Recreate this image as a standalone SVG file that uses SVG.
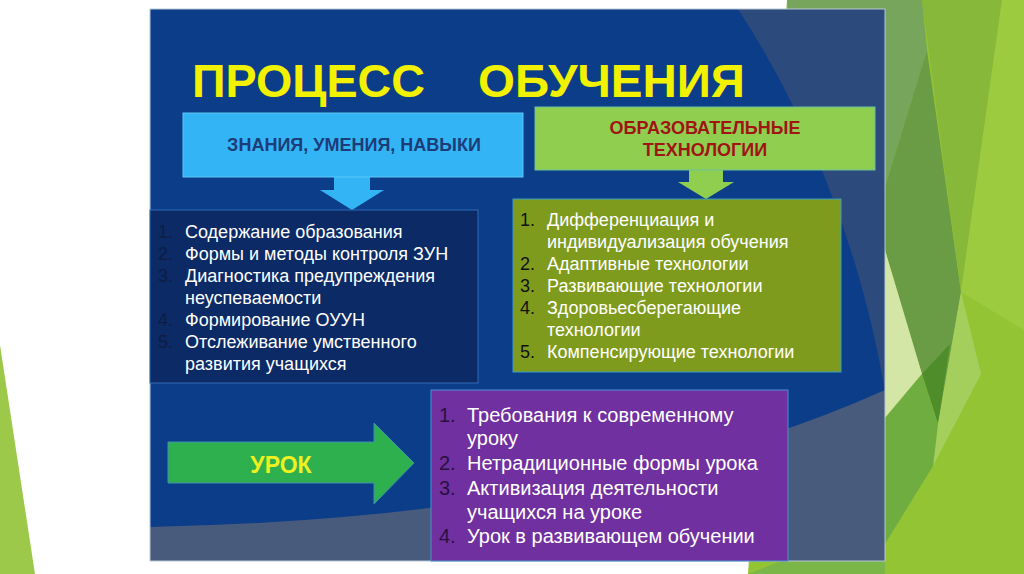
<svg xmlns="http://www.w3.org/2000/svg" width="1024" height="574" viewBox="0 0 1024 574">
<style>
.t{font-family:"Liberation Sans",Arial,sans-serif}
.li{font-family:"Liberation Sans",Arial,sans-serif;font-size:18px;fill:#ffffff}
.lp{font-family:"Liberation Sans",Arial,sans-serif;font-size:20px;fill:#ffffff}
.hd{font-family:"Liberation Sans",Arial,sans-serif;font-size:18px;font-weight:bold;text-anchor:middle}
</style>
<rect width="1024" height="574" fill="#ffffff"/>
<g id="background">
<polygon points="0,345 35,574 0,574" fill="#9dc94b"/>
<polygon points="787,0 1024,0 1024,574 748,574" fill="#93c434"/>
<polygon points="787,0 922,0 927,50 885,187 800,187" fill="#77a55c"/>
<polygon points="927,50 961,292 938,424 922,374 885,250 885,187" fill="#6a9b45"/>
<polygon points="922,0 1002,0 961,292" fill="#87b83a"/>
<polygon points="1002,0 1024,0 1024,330 961,292" fill="#9ccb40"/>
<polygon points="885,250 922,374 885,418" fill="#d3e6a6"/>
<polygon points="922,374 950,344 938,424" fill="#4f8d2b"/>
<polygon points="961,292 981,374 933,466 938,424" fill="#a5cf5c"/>
<polygon points="885,418 922,374 938,424 933,466 885,544" fill="#70ad40"/>
<polygon points="885,520 885,574 748,574" fill="#7ab648"/>
</g>
<g id="frame">
<rect x="150" y="9" width="735" height="552" fill="#0c3d88"/>
<path d="M738,9 L885,9 L885,392 C870,300 830,150 738,9 Z" fill="#2d4a7d"/>
<path d="M150,527 Q600,518 885,390 L885,561 L150,561 Z" fill="#485b7d"/>
<rect x="150" y="9" width="735" height="552" fill="none" stroke="#b8c8d8" stroke-width="1"/>
</g>
<g id="title">
<text class="t" x="192" y="97" font-size="47" font-weight="bold" fill="#f2f200" textLength="233" lengthAdjust="spacingAndGlyphs">ПРОЦЕСС</text>
<text class="t" x="478" y="97" font-size="47" font-weight="bold" fill="#f2f200" textLength="267" lengthAdjust="spacingAndGlyphs">ОБУЧЕНИЯ</text>
</g>
<g id="connectors">
<polygon points="334,177 370,177 370,190 384,190 352,210 320,190 334,190" fill="#33b5f5"/>
<polygon points="689,170 723,170 723,182 734,182 706,199 678,182 689,182" fill="#8fce4f"/>
</g>
<g id="zun">
<rect x="183" y="113" width="340" height="64" fill="#33b5f5" stroke="#5cc6f8" stroke-width="1"/>
<text class="hd" x="354" y="151" fill="#1d3c78">ЗНАНИЯ, УМЕНИЯ, НАВЫКИ</text>
</g>
<g id="tech">
<rect x="535" y="107" width="340" height="63" fill="#8fce4f" stroke="#6cc0a0" stroke-width="1"/>
<text class="hd" x="705" y="134" fill="#a01414">ОБРАЗОВАТЕЛЬНЫЕ</text>
<text class="hd" x="705" y="156" fill="#a01414">ТЕХНОЛОГИИ</text>
</g>
<g id="list-left">
<rect x="150" y="210" width="328" height="173" fill="#0b2a66" stroke="#2f6bb5" stroke-width="1"/>
<text class="li" x="158" y="238" style="fill:#0f1d42">1.</text>
<text class="li" x="158" y="260" style="fill:#0f1d42">2.</text>
<text class="li" x="158" y="282" style="fill:#0f1d42">3.</text>
<text class="li" x="158" y="326" style="fill:#0f1d42">4.</text>
<text class="li" x="158" y="348" style="fill:#0f1d42">5.</text>
<text class="li" x="185" y="238">Содержание образования</text>
<text class="li" x="185" y="260">Формы и методы контроля ЗУН</text>
<text class="li" x="185" y="282">Диагностика предупреждения</text>
<text class="li" x="185" y="304">неуспеваемости</text>
<text class="li" x="185" y="326">Формирование ОУУН</text>
<text class="li" x="185" y="348">Отслеживание умственного</text>
<text class="li" x="185" y="370">развития учащихся</text>
</g>
<g id="list-right">
<rect x="513" y="199" width="328" height="173" fill="#7f9b1e" stroke="#3a9cc0" stroke-width="1"/>
<text class="li" x="520" y="226" style="fill:#111">1.</text>
<text class="li" x="520" y="270" style="fill:#111">2.</text>
<text class="li" x="520" y="292" style="fill:#111">3.</text>
<text class="li" x="520" y="314" style="fill:#111">4.</text>
<text class="li" x="520" y="358" style="fill:#111">5.</text>
<text class="li" x="547" y="226">Дифференциация и</text>
<text class="li" x="547" y="248">индивидуализация обучения</text>
<text class="li" x="547" y="270">Адаптивные технологии</text>
<text class="li" x="547" y="292">Развивающие технологии</text>
<text class="li" x="547" y="314">Здоровьесберегающие</text>
<text class="li" x="547" y="336">технологии</text>
<text class="li" x="547" y="358">Компенсирующие технологии</text>
</g>
<g id="urok">
<polygon points="168,442 374,442 374,423 414,463 374,504 374,483 168,483" fill="#2fb04f" stroke="#3d8fb0" stroke-width="1"/>
<text class="t" x="281" y="473" font-size="23" font-weight="bold" fill="#eef020" text-anchor="middle">УРОК</text>
</g>
<g id="list-lesson">
<rect x="431" y="390" width="357" height="171" fill="#7030a0" stroke="#4a90d0" stroke-width="1"/>
<text class="lp" x="439" y="422" style="fill:#2a1040">1.</text>
<text class="lp" x="439" y="470" style="fill:#2a1040">2.</text>
<text class="lp" x="439" y="495" style="fill:#2a1040">3.</text>
<text class="lp" x="439" y="543" style="fill:#2a1040">4.</text>
<text class="lp" x="467" y="422">Требования к современному</text>
<text class="lp" x="467" y="445">уроку</text>
<text class="lp" x="467" y="470">Нетрадиционные формы урока</text>
<text class="lp" x="467" y="495">Активизация деятельности</text>
<text class="lp" x="467" y="519">учащихся на уроке</text>
<text class="lp" x="467" y="543">Урок в развивающем обучении</text>
</g>
</svg>
